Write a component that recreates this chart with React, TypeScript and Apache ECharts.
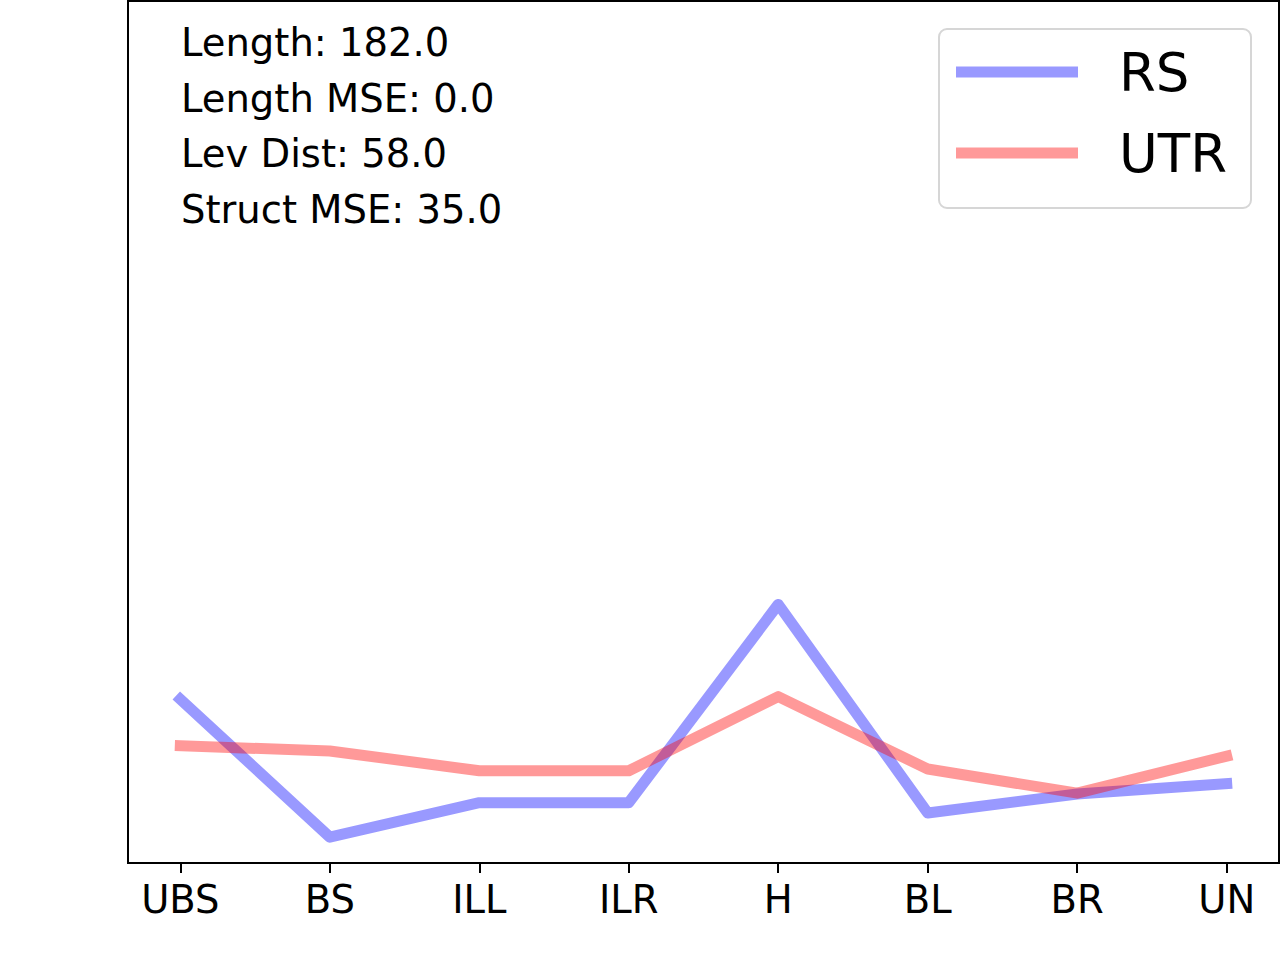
import { useEffect, useRef } from 'react';
import * as echarts from 'echarts';

const categories = ['UBS', 'BS', 'ILL', 'ILR', 'H', 'BL', 'BR', 'UN'];
const rsValues = [19.0, 3.0, 7.0, 7.0, 30.0, 5.8, 8.0, 9.2];
const utrValues = [13.6, 13.0, 10.7, 10.7, 19.3, 10.9, 8.1, 12.4];
const statLines = ['Length: 182.0', 'Length MSE: 0.0', 'Lev Dist: 58.0', 'Struct MSE: 35.0'];

const FONT = 'DejaVu Sans';

export default function App() {
  const chartRef = useRef<HTMLDivElement | null>(null);

  useEffect(() => {
    if (!chartRef.current) {
      return;
    }
    const chart = echarts.init(chartRef.current, null, { renderer: 'svg' });
    const tickValues = categories.map((_, i) => i);
    chart.setOption({
      animation: false,
      backgroundColor: '#ffffff',
      grid: {
        left: 128,
        right: 1,
        top: 1,
        bottom: 97,
        show: true,
        borderColor: '#000000',
        borderWidth: 2,
        backgroundColor: 'transparent',
      },
      xAxis: {
        type: 'value',
        min: -0.35,
        max: 7.35,
        splitLine: { show: false },
        axisLine: { show: false },
        axisTick: {
          show: true,
          customValues: tickValues,
          length: 10,
          lineStyle: { color: '#000000', width: 2 },
        },
        axisLabel: {
          customValues: tickValues,
          formatter: (v: number) => categories[Math.round(v)] ?? '',
          color: '#000000',
          fontFamily: FONT,
          fontSize: 38.5,
          lineHeight: 40,
          margin: 16,
        },
      },
      yAxis: {
        type: 'value',
        min: 0,
        max: 100,
        splitLine: { show: false },
        axisLine: { show: false },
        axisTick: { show: false },
        axisLabel: { show: false },
      },
      legend: {
        orient: 'vertical',
        left: 939,
        top: 29,
        padding: [13, 24, 25, 17],
        itemGap: 21,
        itemWidth: 122,
        itemHeight: 11,
        icon: 'rect',
        borderColor: '#d6d6d6',
        borderWidth: 2,
        borderRadius: 8,
        backgroundColor: 'rgba(255,255,255,0.8)',
        textStyle: {
          color: '#000000',
          fontFamily: FONT,
          fontSize: 53,
          lineHeight: 60,
          padding: [0, 0, 0, 36],
        },
        data: ['RS', 'UTR'],
      },
      graphic: [
        {
          type: 'text',
          x: 181,
          y: 15,
          style: {
            text: statLines.join('\n'),
            fill: '#000000',
            fontFamily: FONT,
            fontSize: 38.5,
            lineHeight: 55.5,
            verticalAlign: 'top',
          },
        },
      ],
      series: [
        {
          name: 'RS',
          type: 'line',
          data: rsValues.map((v, i) => [i, v]),
          showSymbol: false,
          symbol: 'none',
          color: 'rgba(0,0,255,0.4)',
          lineStyle: { width: 11, color: 'rgba(0,0,255,0.4)', cap: 'square', join: 'round' },
        },
        {
          name: 'UTR',
          type: 'line',
          data: utrValues.map((v, i) => [i, v]),
          showSymbol: false,
          symbol: 'none',
          color: 'rgba(255,0,0,0.4)',
          lineStyle: { width: 11, color: 'rgba(255,0,0,0.4)', cap: 'square', join: 'round' },
        },
      ],
    });
    return () => {
      chart.dispose();
    };
  }, []);

  return (
    <div
      ref={chartRef}
      style={{ position: 'fixed', left: 0, top: 0, width: 1280, height: 960, background: '#ffffff' }}
    />
  );
}
